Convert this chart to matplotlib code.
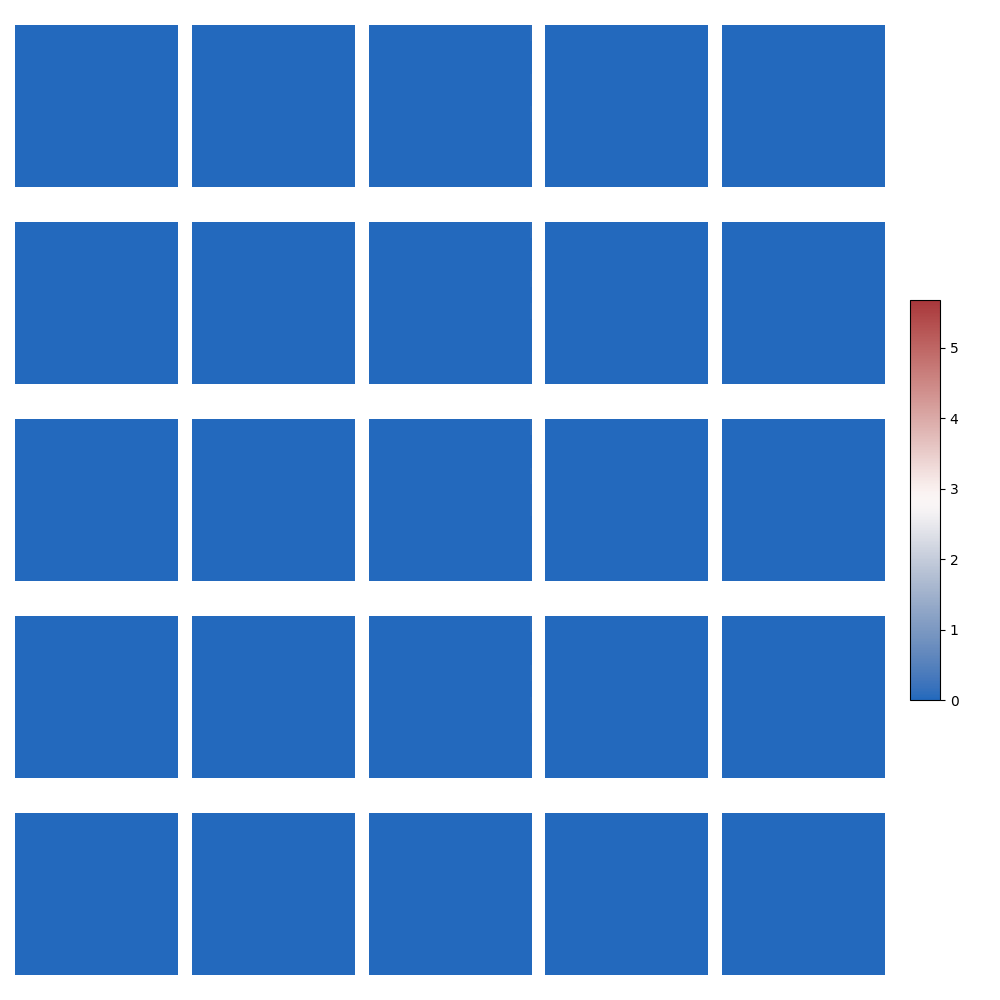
import numpy as np
import matplotlib
matplotlib.use("Agg")
import matplotlib.pyplot as plt
import seaborn as sns

# Data: 5x5 grid of panels, each a heatmap that is (almost) all zeros
n_rows_panel = 5
n_cols_panel = 5
cell_rows = 10
cell_cols = 100
vmin_value = 0.0
vmax_value = 5.68
# small non-zero values in the last column of the middle-column panels
edge_values = [0.08, 0.0, 0.0, 0.05, 0.0, 0.06, 0.0, 0.0, 0.04, 0.0]
colorbar_ticks = [0, 1, 2, 3, 4, 5]

cmap = sns.color_palette("vlag", as_cmap=True)

fig = plt.figure(figsize=(10, 10), dpi=100)
lefts = [15, 192, 369, 545, 722]
tops = [25, 222, 419, 616, 813]
w, h = 163, 162
mesh = None
for r in range(n_rows_panel):
    for c in range(n_cols_panel):
        ax = fig.add_axes([lefts[c] / 1000, 1 - (tops[r] + h) / 1000, w / 1000, h / 1000])
        data = np.zeros((cell_rows, cell_cols))
        if c == 2 and r < 4:
            data[:, -1] = edge_values
        mesh = ax.pcolormesh(data, cmap=cmap, vmin=vmin_value, vmax=vmax_value)
        ax.invert_yaxis()
        ax.set_axis_off()

cax = fig.add_axes([0.910, 0.300, 0.030, 0.400])
cb = fig.colorbar(mesh, cax=cax)
cb.set_ticks(colorbar_ticks)
cb.ax.tick_params(labelsize=10)
fig.savefig("out.png", dpi=100)
